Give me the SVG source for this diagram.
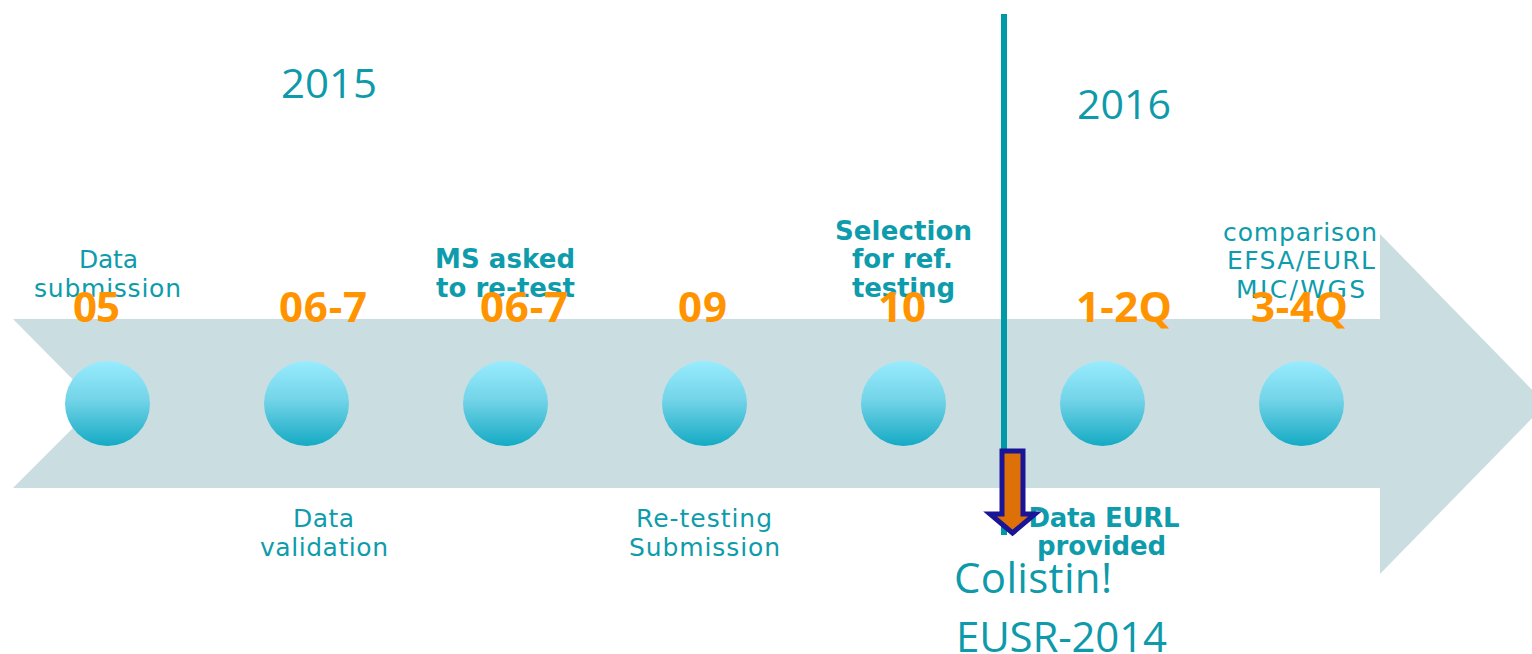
<svg xmlns="http://www.w3.org/2000/svg" width="1532" height="654" viewBox="0 0 1532 654">
<defs>
<linearGradient id="ball" x1="0" y1="0" x2="0" y2="1">
<stop offset="0" stop-color="#98ECFE"/>
<stop offset="0.45" stop-color="#74D4E8"/>
<stop offset="1" stop-color="#14AAC4"/>
</linearGradient>
<style>
.lbl{font-family:"DejaVu Sans",Verdana,sans-serif;font-size:25px;fill:#0E9CAC;text-anchor:middle}
.b{font-weight:bold;font-size:26px}
.num{font-family:"Open Sans","Noto Sans",sans-serif;font-weight:bold;font-size:42px;fill:#FF9400}
.yr{font-family:"Open Sans","Noto Sans",sans-serif;font-size:40px;fill:#0E9AAA}
.big{font-family:"Open Sans","Noto Sans",sans-serif;font-size:42px;fill:#0E9AAA}
.ball{fill:url(#ball)}
</style>
</defs>
<rect width="1532" height="654" fill="#FFFFFF"/>
<g id="timeline">
<polygon points="13,319 1380,319 1380,234 1546,404 1380,574 1380,488 13,488 97,404" fill="#CADEE2"/>
</g>
<g id="n05"><circle class="ball" cx="107.5" cy="403.5" r="42.5"/></g>
<g id="n06a"><circle class="ball" cx="306.5" cy="403.5" r="42.5"/></g>
<g id="n06b"><circle class="ball" cx="505.5" cy="403.5" r="42.5"/></g>
<g id="n09"><circle class="ball" cx="704.5" cy="403.5" r="42.5"/></g>
<g id="n10"><circle class="ball" cx="903.5" cy="403.5" r="42.5"/></g>
<g id="n12q"><circle class="ball" cx="1102.5" cy="403.5" r="42.5"/></g>
<g id="n34q"><circle class="ball" cx="1301.5" cy="403.5" r="42.5"/></g>
<g id="labels">
<text class="lbl" x="108.5" y="268" textLength="59">Data</text>
<text class="lbl" x="107.5" y="297" textLength="147">submission</text>
<text class="lbl b" x="505" y="268" textLength="140">MS asked</text>
<text class="lbl b" x="505.5" y="297" textLength="139">to re-test</text>
<text class="lbl b" x="903.5" y="240" textLength="137">Selection</text>
<text class="lbl b" x="902.5" y="268" textLength="101">for ref.</text>
<text class="lbl b" x="903.5" y="297" textLength="103">testing</text>
<text class="lbl" x="1300" y="240.5" textLength="154">comparison</text>
<text class="lbl" x="1301" y="269" textLength="148">EFSA/EURL</text>
<text class="lbl" x="1300.5" y="297.5" textLength="129">MIC/WGS</text>
<text class="lbl" x="323.5" y="527" textLength="61">Data</text>
<text class="lbl" x="324" y="556" textLength="128">validation</text>
<text class="lbl" x="704" y="527" textLength="136">Re-testing</text>
<text class="lbl" x="704.5" y="556" textLength="151">Submission</text>
<text class="lbl b" x="1104" y="527" textLength="151">Data EURL</text>
<text class="lbl b" x="1101.5" y="555" textLength="129">provided</text>
</g>
<g id="numbers">
<text class="num" x="73" y="322" textLength="47">05</text>
<text class="num" x="279" y="322" textLength="88">06-7</text>
<text class="num" x="480" y="322" textLength="88">06-7</text>
<text class="num" x="678" y="322" textLength="49">09</text>
<text class="num" x="878" y="322" textLength="48">10</text>
<text class="num" x="1076" y="322" textLength="96">1-2Q</text>
<text class="num" x="1251" y="322" textLength="97">3-4Q</text>
</g>
<g id="years">
<text class="yr" x="281" y="98" textLength="96" lengthAdjust="spacingAndGlyphs">2015</text>
<text class="yr" x="1077" y="119" textLength="94" lengthAdjust="spacingAndGlyphs">2016</text>
</g>
<g id="connectors">
<line x1="1004" y1="14" x2="1004" y2="535" stroke="#0099A8" stroke-width="6"/>
<polygon points="1002,451 1023,451 1023,514 1035,514 1012.5,533 990,514 1002,514" fill="#DD7007" stroke="#1A1496" stroke-width="5" stroke-linejoin="miter"/>
</g>
<g id="note">
<text class="big" x="954" y="593" textLength="158">Colistin!</text>
<text class="big" x="956" y="652" textLength="211">EUSR-2014</text>
</g>
</svg>
